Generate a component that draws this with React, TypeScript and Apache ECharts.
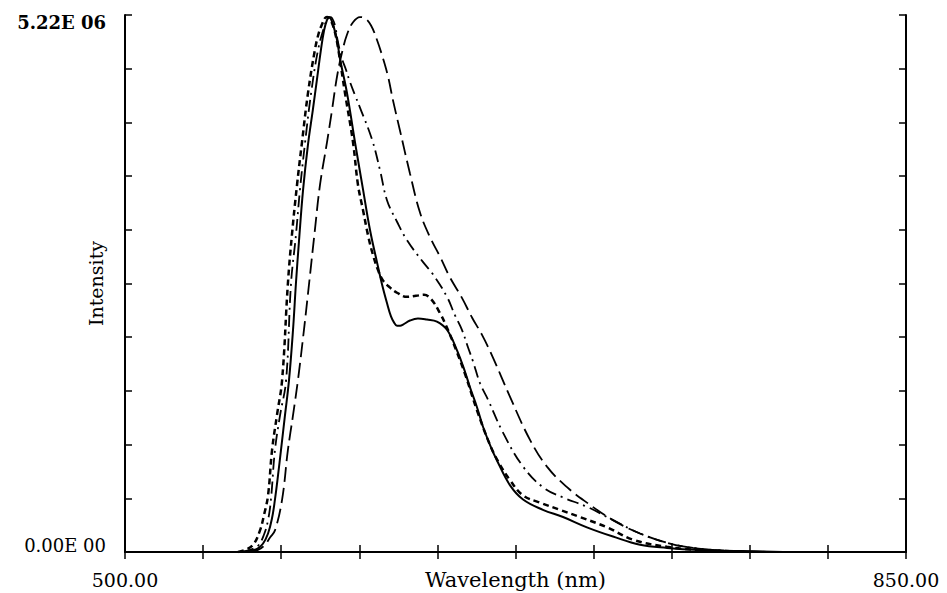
import React, { useEffect, useRef } from "react";
import * as echarts from "echarts";

// Wavelength (nm) vs intensity (x 1e6)
const solidCurve: [number, number][] = [
  [551.5, 0], [556.0, 0.01], [559.2, 0.03], [561.8, 0.08], [564.1, 0.18], [565.9, 0.33],
  [567.2, 0.51], [568.6, 0.75], [569.9, 0.99], [571.7, 1.33], [573.5, 1.67], [575.3, 2.16],
  [576.6, 2.61], [578.0, 3.03], [579.8, 3.52], [582.0, 3.96], [584.2, 4.30], [586.0, 4.59],
  [587.8, 4.88], [589.2, 5.07], [590.5, 5.17], [591.4, 5.20], [592.3, 5.18], [593.6, 5.10],
  [595.0, 4.98], [596.3, 4.80], [599.5, 4.46], [603.1, 3.98], [606.7, 3.52], [609.8, 3.13],
  [612.9, 2.82], [615.2, 2.60], [617.4, 2.42], [619.2, 2.29], [620.6, 2.23], [621.9, 2.20],
  [623.3, 2.20], [624.6, 2.21], [627.7, 2.25], [631.3, 2.27], [635.3, 2.26], [639.8, 2.24],
  [644.3, 2.16], [648.8, 1.96], [652.4, 1.75], [654.6, 1.60], [657.7, 1.41], [660.4, 1.22],
  [663.6, 1.04], [666.7, 0.89], [672.5, 0.65], [678.4, 0.51], [687.3, 0.41], [696.3, 0.34],
  [707.0, 0.24], [718.7, 0.15], [730.8, 0.07], [742.9, 0.04], [757.7, 0.02], [775.6, 0.01],
  [794.9, 0],
];

const shortDashCurve: [number, number][] = [
  [550.6, 0], [553.8, 0.02], [557.4, 0.07], [560.5, 0.21], [562.3, 0.36], [564.1, 0.55],
  [565.9, 0.99], [568.1, 1.33], [570.4, 1.67], [573.0, 2.61], [574.8, 3.08], [577.1, 3.57],
  [579.3, 3.98], [582.0, 4.46], [585.1, 4.88], [586.9, 5.05], [588.3, 5.13], [589.6, 5.19],
  [590.5, 5.20], [591.4, 5.19], [592.8, 5.14], [594.1, 5.05], [595.4, 4.91], [598.6, 4.46],
  [602.2, 3.98], [604.4, 3.57], [606.7, 3.32], [608.9, 3.08], [611.1, 2.89], [613.4, 2.74],
  [615.6, 2.64], [618.8, 2.57], [621.9, 2.52], [626.4, 2.48], [630.4, 2.49], [634.0, 2.50],
  [637.1, 2.46], [641.2, 2.32], [644.7, 2.16], [648.8, 1.94], [652.4, 1.73], [657.7, 1.38],
  [663.6, 1.04], [668.0, 0.85], [672.5, 0.70], [678.4, 0.55], [686.0, 0.48], [694.9, 0.41],
  [703.9, 0.34], [716.0, 0.24], [727.6, 0.12], [742.9, 0.05], [757.7, 0.02], [780.1, 0],
];

const dashDotCurve: [number, number][] = [
  [552.4, 0], [556.0, 0.02], [559.6, 0.06], [562.3, 0.17], [564.1, 0.31], [565.4, 0.51],
  [567.2, 0.99], [569.5, 1.33], [572.2, 1.67], [574.4, 2.61], [576.6, 3.08], [578.4, 3.52],
  [580.7, 3.98], [583.4, 4.46], [586.5, 4.88], [589.2, 5.10], [590.5, 5.17], [591.9, 5.20],
  [592.8, 5.19], [594.1, 5.12], [595.4, 4.96], [597.2, 4.80], [599.0, 4.69], [600.8, 4.57],
  [603.1, 4.44], [605.3, 4.32], [610.7, 4.01], [614.3, 3.71], [617.4, 3.42], [621.9, 3.21],
  [626.4, 3.03], [633.5, 2.82], [638.0, 2.70], [644.3, 2.48], [647.9, 2.30], [651.0, 2.16],
  [653.7, 1.99], [656.0, 1.85], [659.1, 1.64], [662.7, 1.48], [669.4, 1.16], [678.4, 0.83],
  [687.3, 0.63], [696.3, 0.53], [707.0, 0.44], [718.7, 0.31], [730.8, 0.18], [742.9, 0.09],
  [754.5, 0.04], [771.1, 0.01], [793.5, 0],
];

const longDashCurve: [number, number][] = [
  [556.0, 0], [559.6, 0.02], [562.3, 0.06], [565.0, 0.14], [567.2, 0.21], [570.4, 0.51],
  [573.0, 0.99], [575.3, 1.33], [577.5, 1.67], [580.2, 2.16], [582.5, 2.61], [585.1, 3.13],
  [587.4, 3.57], [590.5, 3.98], [592.8, 4.30], [595.0, 4.62], [597.2, 4.85], [599.5, 5.03],
  [602.2, 5.15], [605.3, 5.20], [607.5, 5.19], [610.2, 5.12], [612.9, 4.98], [615.6, 4.80],
  [617.9, 4.62], [620.1, 4.39], [623.2, 4.10], [627.7, 3.68], [632.2, 3.30], [636.7, 3.06],
  [641.2, 2.87], [645.6, 2.67], [651.0, 2.47], [655.5, 2.28], [660.0, 2.11], [664.9, 1.89],
  [672.5, 1.51], [681.5, 1.09], [689.1, 0.83], [698.1, 0.63], [707.0, 0.48], [718.7, 0.31],
  [730.8, 0.18], [742.9, 0.09], [754.5, 0.04], [771.1, 0.01], [797.8, 0],
];

const xMin = 500;
const xMax = 850;
const xStep = 35;
const yMin = 0;
const yMax = 5.22;
const yStep = 0.522;
const xTickLabels = ["500.00", "850.00"];
const yTickLabels = ["0.00E 00", "5.22E 06"];

const FONT = "DejaVu Serif";

export default function App() {
  const ref = useRef<HTMLDivElement>(null);
  useEffect(() => {
    if (!ref.current) return;
    const chart = echarts.init(ref.current, undefined, { renderer: "svg" });
    const axisLine = { show: true, lineStyle: { color: "#000", width: 2 } };
    const tick = { show: true, inside: true, length: 7, lineStyle: { color: "#000", width: 1.5 } };
    const mkLine = (name: string, data: [number, number][], type: any, width: number) => ({
      name,
      type: "line",
      data,
      smooth: 0.4,
      symbol: "none",
      lineStyle: { color: "#000", width, type },
      z: 3,
    });
    chart.setOption({
      animation: false,
      backgroundColor: "#fff",
      grid: {
        left: 125,
        right: 41,
        top: 15,
        bottom: 41,
        containLabel: false,
        outerBoundsMode: "none",
      },
      xAxis: [
        {
          type: "value",
          position: "bottom",
          min: xMin,
          max: xMax,
          interval: xStep,
          axisLine,
          axisTick: tick,
          splitLine: { show: false },
          axisLabel: {
            margin: 18,
            fontFamily: FONT,
            fontSize: 19,
            color: "#000",
            formatter: (v: number) =>
              Math.abs(v - xMin) < 1e-6 ? xTickLabels[0] : Math.abs(v - xMax) < 1e-6 ? xTickLabels[1] : "",
          },
          name: "Wavelength (nm)",
          nameLocation: "middle",
          nameGap: 17,
          nameMoveOverlap: false,
          nameTextStyle: { fontFamily: FONT, fontSize: 21, color: "#000" },
        },
        {
          type: "value",
          position: "top",
          min: xMin,
          max: xMax,
          interval: xStep,
          axisLine,
          axisTick: tick,
          axisLabel: { show: false },
          splitLine: { show: false },
        },
      ],
      yAxis: [
        {
          type: "value",
          position: "left",
          min: yMin,
          max: yMax,
          interval: yStep,
          axisLine,
          axisTick: tick,
          splitLine: { show: false },
          axisLabel: {
            margin: 19,
            fontFamily: FONT,
            fontSize: 18,
            color: "#000",
            formatter: (v: number) =>
              Math.abs(v - yMin) < 1e-6
                ? "{lo|" + yTickLabels[0] + "}"
                : Math.abs(v - yMax) < 1e-3
                ? "{hi|" + yTickLabels[1] + "}"
                : "",
            rich: {
              lo: { fontFamily: FONT, fontSize: 18, color: "#000", padding: [0, 0, 14, 0] },
              hi: { fontFamily: FONT, fontSize: 18, fontWeight: "bold", color: "#000", padding: [14, 0, 0, 0] },
            },
          },
          name: "Intensity",
          nameLocation: "middle",
          nameGap: 20,
          nameMoveOverlap: false,
          nameTextStyle: { fontFamily: FONT, fontSize: 19, color: "#000" },
        },
        {
          type: "value",
          position: "right",
          min: yMin,
          max: yMax,
          interval: yStep,
          axisLine,
          axisTick: tick,
          axisLabel: { show: false },
          splitLine: { show: false },
        },
      ],
      series: [
        mkLine("solid", solidCurve, "solid", 2),
        mkLine("short dash", shortDashCurve, [6, 4], 2.5),
        mkLine("dash dot", dashDotCurve, [12, 5, 2, 5], 1.8),
        mkLine("long dash", longDashCurve, [15, 6], 1.8),
      ],
    });
    return () => chart.dispose();
  }, []);
  return (
    <div
      ref={ref}
      style={{ position: "absolute", left: 0, top: 0, width: 947, height: 593 }}
    />
  );
}
